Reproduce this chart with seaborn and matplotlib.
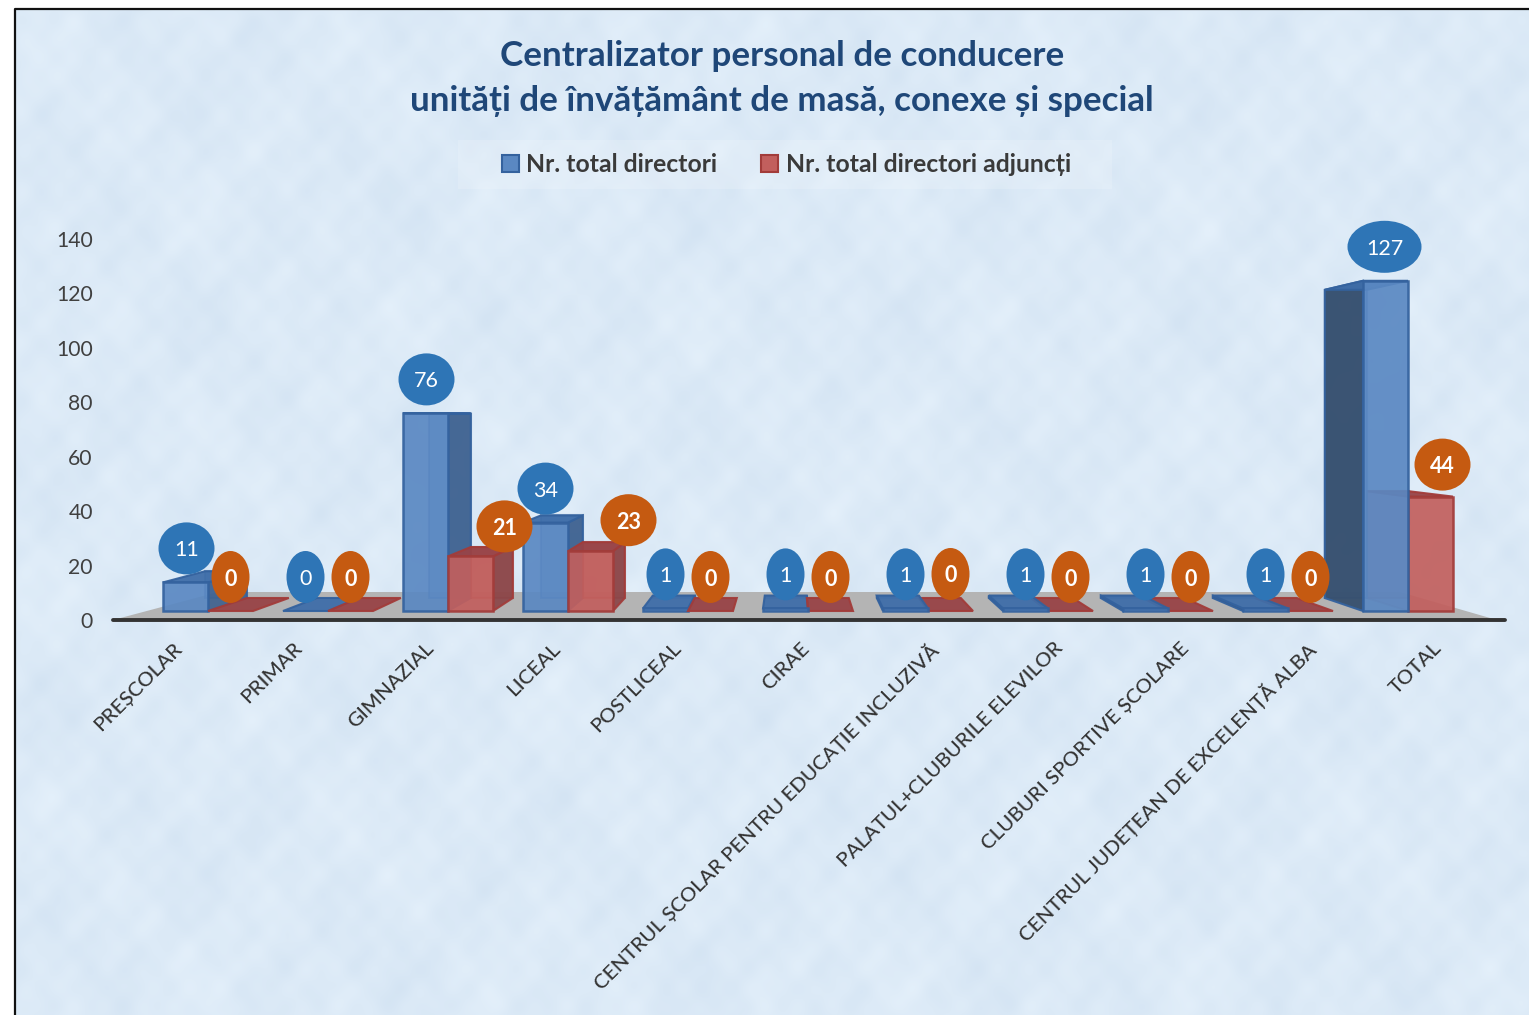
import numpy as np
import pandas as pd
import matplotlib
matplotlib.use("Agg")
import matplotlib.pyplot as plt
from matplotlib.patches import Polygon, Ellipse, Rectangle
from matplotlib.transforms import ScaledTranslation
import seaborn as sns

categories = ["PREȘCOLAR", "PRIMAR", "GIMNAZIAL", "LICEAL", "POSTLICEAL", "CIRAE",
              "CENTRUL ȘCOLAR PENTRU EDUCAȚIE INCLUZIVĂ", "PALATUL+CLUBURILE ELEVILOR",
              "CLUBURI SPORTIVE ȘCOLARE", "CENTRUL JUDEȚEAN DE EXCELENȚĂ ALBA", "TOTAL"]
directori = [11, 0, 76, 34, 1, 1, 1, 1, 1, 1, 127]
adjuncti = [0, 0, 21, 23, 0, 0, 0, 0, 0, 0, 44]
series_names = ["Nr. total directori", "Nr. total directori adjuncți"]
y_ticks = [0, 20, 40, 60, 80, 100, 120, 140]
title_text = "Centralizator personal de conducere\nunități de învățământ de masă, conexe și special"

W, H = 1529, 1015
FONT = ["Lato", "DejaVu Sans"]
sns.set_theme(style="white")
plt.rcParams["font.family"] = FONT

fig = plt.figure(figsize=(W / 100, H / 100), dpi=100, facecolor="white")

def rect(l, t, r, b):
    return [l / W, 1 - b / H, (r - l) / W, (b - t) / H]

# pixel-space backdrop: a soft mottled paper tone
ax_px = fig.add_axes([0, 0, 1, 1], zorder=0)
yy, xx = np.mgrid[0:H:2, 0:W:2]
tex = (np.sin(xx / 23) * np.sin(yy / 31 + 1) * 1.0 + np.sin(xx / 11 + 2) * np.sin(yy / 13) * .8
       + np.sin(xx / 5.3) * np.sin(yy / 6.1 + 3) * .6 + np.sin(xx / 53 + 1) * np.sin(yy / 41) * .7
       + np.sin((xx + yy * .6) / 8.3) * np.sin((xx * .7 - yy) / 17) * .7)
tex = tex / 2.4
base = np.array([0.862, 0.917, 0.968])
amp = np.array([0.024, 0.018, 0.011])
img = np.clip(base[None, None, :] + tex[..., None] * amp, 0, 1)
ax_px.imshow(img, extent=[15, W, H, 9], aspect="auto", interpolation="bilinear", zorder=0)
ax_px.set_xlim(0, W)
ax_px.set_ylim(H, 0)
ax_px.axis("off")
ax_px.plot([15, 15, W], [H, 9, 9], color="#111111", lw=1.6, zorder=1)
ax_px.add_patch(Polygon([(113, 620), (218, 592), (1400, 592), (1497, 620)], closed=True,
                        fc="#B4B4B4", ec="none", zorder=2))
ax_px.add_patch(Rectangle((458, 140), 654, 49, fc="white", ec="none", alpha=.16, zorder=2))

# value axis
ax = fig.add_axes(rect(113, 239, 1505, 620), zorder=1)
ax.patch.set_alpha(0)
ax.set_xlim((113 - 208) / 120, (1505 - 208) / 120)
ax.set_ylim(0, 140)
ax.set_yticks(y_ticks)
ax.set_xticks(range(len(categories)))
ax.set_xticklabels(categories, rotation=45, ha="right", va="top", rotation_mode="anchor",
                   fontsize=14.75, color="#333333", fontweight=500)
ax.tick_params(axis="y", length=0, pad=14.5, labelsize=15.2, labelcolor="#404040")
ax.tick_params(axis="x", length=0, pad=14)
for s in ["left", "right", "top"]:
    ax.spines[s].set_visible(False)
ax.spines["bottom"].set_color("#333333")
ax.spines["bottom"].set_linewidth(2.8)
ax.spines["bottom"].set_capstyle("round")
label_dx = [-35, -35, -23, -17, -16, -7, 0, 6, 12, 18, 25]
for lbl, dx in zip(ax.get_xticklabels(), label_dx):
    lbl.set_transform(lbl.get_transform() + ScaledTranslation(dx / 100, 0, fig.dpi_scale_trans))

# bars: zero sits on the front edge of the floor
ax_b = fig.add_axes(rect(113, 239, 1505, 620), zorder=2)
ax_b.patch.set_alpha(0)
df = pd.DataFrame({
    "cat": categories * 2,
    "val": directori + adjuncti,
    "serie": [series_names[0]] * len(categories) + [series_names[1]] * len(categories),
})
BLUE, RED = "#5A88C2", "#C25F5D"
sns.barplot(data=df, x="cat", y="val", hue="serie", hue_order=series_names, order=categories,
            palette=[BLUE, RED], saturation=1, width=0.75, gap=0, errorbar=None, ax=ax_b,
            linewidth=1.8, edgecolor="#3A659F")
ax_b.set_xlim((113 - 208) / 120, (1505 - 208) / 120)
ax_b.set_ylim(-9 / 2.6, (611 - 239) / 2.6)
ax_b.axis("off")

VX, VY, K = 790.0, 416.0, 0.0667
def back(p):
    return (p[0] - K * (p[0] - VX), p[1] - K * (p[1] - VY))

px = ax_px.transData
STYLE = [
    dict(front=BLUE, edge="#34629E", side="#3F628F", far="#37506F", top="#3F6EA9", back=BLUE),
    dict(front=RED, edge="#A23C3A", side="#8A4548", far="#B05A60", top="#984347", back=RED),
]

def to_px(x, y):
    d = ax_b.transData.transform((x, y))
    return (d[0], H - d[1])

fig.canvas.draw()
for s_idx, cont in enumerate(ax_b.containers):
    st = STYLE[s_idx]
    for i, bar in enumerate(cont.patches):
        x0, w = bar.get_x(), bar.get_width()
        v = bar.get_height()
        fl, fr = to_px(x0, 0), to_px(x0 + w, 0)
        tl, tr = to_px(x0, v), to_px(x0 + w, v)
        right_of_vp = fl[0] > VX
        if right_of_vp:
            base_z = 10 + i * 4 + (1 - s_idx) * 2
        else:
            base_z = 10 + i * 4 + s_idx * 2
        bfl, bfr, btl, btr = back(fl), back(fr), back(tl), back(tr)
        edge = st["edge"]
        kw = dict(closed=True, transform=px, lw=1.5, clip_on=False)
        if v > 0:
            ax_b.add_patch(Polygon([bfl, bfr, btr, btl], fc=st["back"], ec=edge, alpha=.55, zorder=base_z, **kw))
            if right_of_vp:
                side_col, a = st["far"], (.96 if s_idx == 0 else .35)
                ax_b.add_patch(Polygon([fl, tl, btl, bfl], fc=side_col, ec=edge, alpha=a, zorder=base_z + .1, **kw))
            else:
                ax_b.add_patch(Polygon([fr, tr, btr, bfr], fc=st["side"], ec=edge, alpha=.92, zorder=base_z + .1, **kw))
        ax_b.add_patch(Polygon([tl, tr, btr, btl], fc=st["top"], ec=edge, alpha=.95, zorder=base_z + .2, **kw))
        bar.set_zorder(base_z + .5)
        bar.set_edgecolor(edge)
        bar.set_alpha(.92 if v > 0 else 0)

# data labels
BLUE_L, ORANGE_L = "#2E75B6", "#C55A11"
dx_lab = [[1, 0, 1, 0, 0, 0, 0, 0, 0, 0, -1],
          [0, 0, 34, 38, 0, 0, 0, 0, 0, 0, 12]]
dy_lab = [[0, 0, 0, 0, 0, 0, 0, 0, 0, 0, 0],
          [0, 0, 4, 3, 0, 0, -3, 0, 0, 0, 2]]
for s_idx, cont in enumerate(ax_b.containers):
    for i, bar in enumerate(cont.patches):
        v = bar.get_height()
        c = to_px(bar.get_x() + bar.get_width() / 2, v)
        cx = c[0] + dx_lab[s_idx][i]
        cy = c[1] - 34 + dy_lab[s_idx][i]
        w = 74 if v >= 100 else (56 if v >= 10 else 38)
        ax_b.add_patch(Ellipse((cx, cy), w, 52, fc=BLUE_L if s_idx == 0 else ORANGE_L, ec="none",
                               transform=px, zorder=200, clip_on=False))
        ax_b.text(cx, cy, f"{v:.0f}", ha="center", va="center_baseline", color="white", fontsize=15.5,
                  fontweight="normal" if s_idx == 0 else "bold", transform=px, zorder=201, clip_on=False)

sns.move_legend(ax_b, "center", bbox_to_anchor=(786.5 / W, 1 - 164.5 / H), bbox_transform=fig.transFigure,
                ncol=2, title=None, frameon=False, fontsize=17.8, handlelength=.68, handleheight=.68,
                handletextpad=.3, columnspacing=1.77, borderpad=.5)
leg = ax_b.get_legend()
leg.set_zorder(300)
for t in leg.get_texts():
    t.set_color("#3A3A3A")
    t.set_fontweight("bold")
for h, e in zip(leg.legend_handles, ["#34629E", "#A23C3A"]):
    h.set_edgecolor(e)
    h.set_linewidth(1.5)
    h.set_alpha(1)

fig.text(782 / W, 1 - 78.5 / H, title_text, ha="center", va="center", fontsize=25.2, fontweight="bold",
         color="#1F4778", linespacing=1.52)

fig.savefig("out.png", dpi=100, facecolor="white")
